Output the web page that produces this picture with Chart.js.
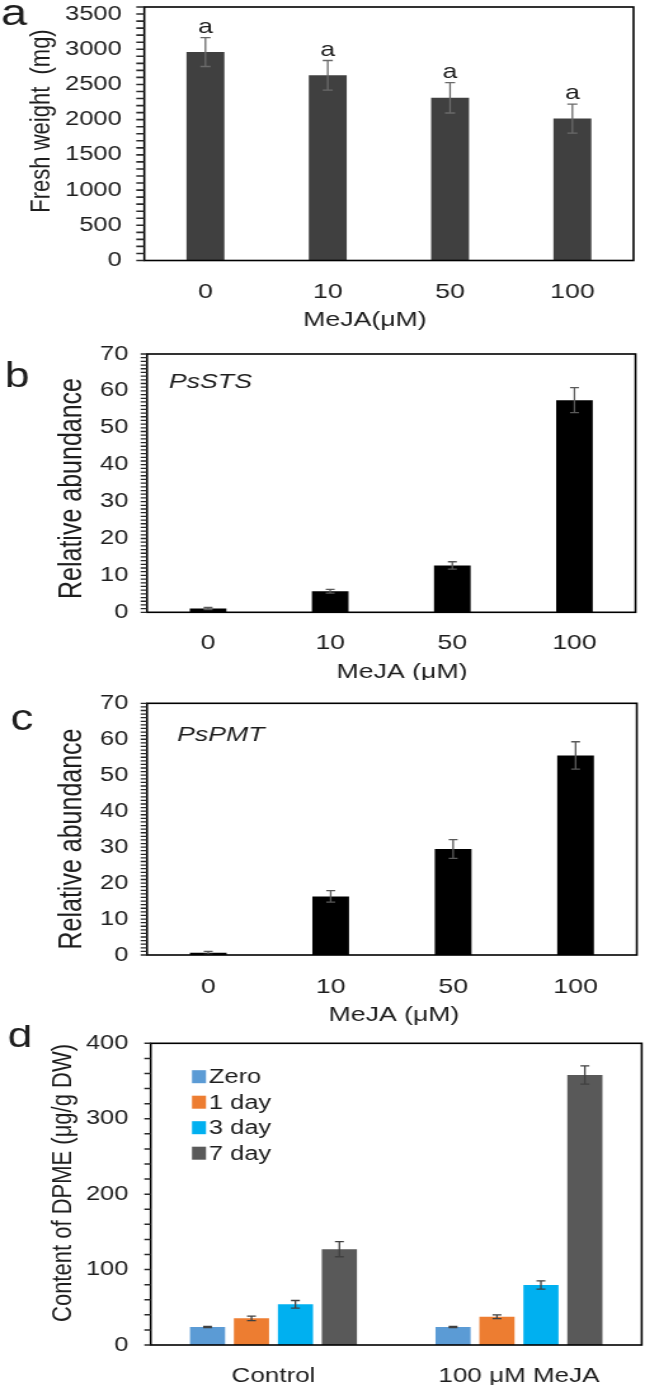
<!DOCTYPE html>
<html><head><meta charset="utf-8">
<script src="https://cdn.jsdelivr.net/npm/chart.js@4.4.1/dist/chart.umd.min.js"></script>
<style>
html,body{margin:0;padding:0;background:#fff;}
#page{position:relative;width:645px;height:1393px;overflow:hidden;background:#fff;}
.panel{position:absolute;left:0;width:508px;transform:scaleX(1.269685);transform-origin:0 0;}
</style></head><body>
<div id="page">
<div class="panel" style="top:0;height:335px"><canvas id="cA"></canvas></div>
<div class="panel" style="top:335px;height:345px"><canvas id="cB"></canvas></div>
<div class="panel" style="top:680px;height:345px"><canvas id="cC"></canvas></div>
<div class="panel" style="top:1025px;height:368px"><canvas id="cD"></canvas></div>
</div>
<script>
// ---------- data ----------
const doseLabels = ['0', '10', '50', '100'];
const freshWeight = [2960, 2630, 2310, 2015];
const freshWeightErr = [205, 210, 215, 205];
const freshWeightLetters = ['a', 'a', 'a', 'a'];
const freshWeightTicks = [0, 500, 1000, 1500, 2000, 2500, 3000, 3500];

const stsAbundance = [1.0, 5.7, 12.7, 57.5];
const stsErr = [0.3, 0.5, 1.0, 3.4];
const pmtAbundance = [0.6, 16.3, 29.5, 55.5];
const pmtErr = [0.4, 1.6, 2.6, 3.8];
const abundanceTicks = [0, 10, 20, 30, 40, 50, 60, 70];

const dpmeGroups = ['Control', '100 μM MeJA'];
const dpmeSeriesNames = ['Zero', '1 day', '3 day', '7 day'];
const dpmeZero = [24, 24];
const dpmeZeroErr = [0.8, 0.8];
const dpmeDay1 = [35.4, 37.5];
const dpmeDay1Err = [3.0, 2.5];
const dpmeDay3 = [54, 79.5];
const dpmeDay3Err = [5.0, 5.5];
const dpmeDay7 = [127, 358];
const dpmeDay7Err = [10, 12];
const dpmeTicks = [0, 100, 200, 300, 400];

// ---------- helpers ----------
const S = 645 / 508;
const FONT = "'Liberation Sans', Arial, Helvetica, sans-serif";
const TXT = '#1e1e1e';

const framePlugin = {
  id: 'frame',
  afterDraw(chart) {
    const {ctx, chartArea: a} = chart;
    ctx.save();
    ctx.strokeStyle = '#000';
    ctx.lineWidth = 1.6;
    ctx.strokeRect(a.left, a.top, a.right - a.left, a.bottom - a.top);
    ctx.restore();
  }
};

const yTickPlugin = {
  id: 'yTickMarks',
  afterDraw(chart, args, opts) {
    const ys = chart.scales.y;
    const ctx = chart.ctx;
    const left = chart.chartArea.left;
    const len = opts.len || 6;
    ctx.save();
    ctx.strokeStyle = opts.color || '#222';
    ctx.lineWidth = opts.width || 1.3;
    ctx.beginPath();
    for (const t of ys.ticks) {
      const y = ys.getPixelForValue(t.value);
      ctx.moveTo(left - len, y);
      ctx.lineTo(left, y);
    }
    ctx.stroke();
    ctx.restore();
  }
};

const errorBarPlugin = {
  id: 'errorBars',
  afterDatasetsDraw(chart, args, opts) {
    const {ctx} = chart;
    const ys = chart.scales.y;
    chart.data.datasets.forEach((ds, i) => {
      if (!ds.errors) return;
      const meta = chart.getDatasetMeta(i);
      meta.data.forEach((bar, j) => {
        const v = ds.data[j], e = ds.errors[j];
        const top = ys.getPixelForValue(v + e), bot = ys.getPixelForValue(v - e);
        const hw = opts.cap / 2;
        ctx.save();
        ctx.strokeStyle = opts.color;
        ctx.lineWidth = opts.width;
        ctx.beginPath();
        ctx.moveTo(bar.x, top); ctx.lineTo(bar.x, bot);
        ctx.moveTo(bar.x - hw, top); ctx.lineTo(bar.x + hw, top);
        ctx.moveTo(bar.x - hw, bot); ctx.lineTo(bar.x + hw, bot);
        ctx.stroke();
        ctx.restore();
        if (ds.letters) {
          ctx.save();
          ctx.fillStyle = TXT;
          ctx.font = opts.letterSize + 'px ' + FONT;
          ctx.textAlign = 'center';
          ctx.textBaseline = 'alphabetic';
          ctx.fillText(ds.letters[j], bar.x, top - opts.letterGap);
          ctx.restore();
        }
      });
    });
  }
};

const textPlugin = {
  id: 'panelText',
  afterDraw(chart, args, opts) {
    const ctx = chart.ctx;
    (opts.items || []).forEach(it => {
      ctx.save();
      ctx.fillStyle = TXT;
      ctx.font = (it.style || 'normal') + ' ' + it.size + 'px ' + FONT;
      ctx.textAlign = it.align || 'center';
      ctx.textBaseline = 'middle';
      ctx.translate(it.x / S, it.y);
      if (it.rotate) ctx.rotate(-Math.PI / 2);
      ctx.fillText(it.text, 0, 0);
      ctx.restore();
    });
  }
};

const boxLegendPlugin = {
  id: 'boxLegend',
  afterDraw(chart, args, opts) {
    if (!opts.show) return;
    const ctx = chart.ctx;
    chart.data.datasets.forEach((ds, i) => {
      const y = opts.y0 + i * opts.step;
      ctx.save();
      ctx.fillStyle = ds.backgroundColor;
      ctx.fillRect(opts.boxX / S, y - opts.boxH / 2, opts.boxW / S, opts.boxH);
      ctx.fillStyle = TXT;
      ctx.font = opts.size + 'px ' + FONT;
      ctx.textAlign = 'left';
      ctx.textBaseline = 'middle';
      ctx.fillText(ds.label, opts.textX / S, y + 1);
      ctx.restore();
    });
  }
};

function yScale(o) {
  return {
    type: 'linear', min: 0, max: o.max,
    afterBuildTicks(scale) {
      const vals = [];
      for (let k = 0; k * o.minorStep <= o.max + 1e-9; k++) vals.push(+(k * o.minorStep).toFixed(6));
      scale.ticks = vals.map(v => ({value: v}));
    },
    afterFit(scale) { scale.width = o.width; scale.paddingTop = 0; scale.paddingBottom = 0; },
    ticks: {
      autoSkip: false, color: TXT, padding: o.padding,
      font: {family: FONT, size: o.font},
      callback: (v) => o.labels.includes(v) ? String(v) : ''
    },
    grid: {display: false, drawOnChartArea: false, drawTicks: false},
    border: {display: false}
  };
}

function xScale(o) {
  return {
    type: 'category', offset: true,
    afterFit(scale) { scale.height = o.height; scale.paddingLeft = 0; scale.paddingRight = 0; },
    ticks: {font: {family: FONT, size: o.font}, color: TXT, padding: o.padding, maxRotation: 0, autoSkip: false},
    grid: {display: false, drawTicks: false},
    border: {display: false}
  };
}

const base = {
  responsive: true, maintainAspectRatio: false, animation: false,
  events: []
};

// ---------- panel a ----------
new Chart(document.getElementById('cA'), {
  type: 'bar',
  data: {
    labels: doseLabels,
    datasets: [{
      label: 'Fresh weight', data: freshWeight, errors: freshWeightErr, letters: freshWeightLetters,
      backgroundColor: '#404040', borderWidth: 0, barPercentage: 0.31, categoryPercentage: 1.0
    }]
  },
  options: Object.assign({}, base, {
    layout: {padding: {left: 13.65, right: 9.05, top: 7, bottom: 24.5}},
    scales: {
      x: xScale({font: 21, padding: 19, height: 50}),
      y: yScale({max: 3600, labels: freshWeightTicks, minorStep: 100, font: 20, padding: 17.8, width: 100})
    },
    plugins: {
      legend: {display: false}, tooltip: {enabled: false},
      yTickMarks: {len: 6.3, color: '#2a2a2a', width: 1.6},
      errorBars: {color: '#6a6a6a', width: 1.3, cap: 8, letterSize: 21, letterGap: 5},
      panelText: {items: [
        {text: 'a', x: 14, y: 15, size: 37},
        {text: 'Fresh weight  (mg)', x: 42, y: 121, size: 22, rotate: true},
        {text: 'MeJA(μM)', x: 365, y: 320, size: 21}
      ]}
    }
  }),
  plugins: [framePlugin, yTickPlugin, errorBarPlugin, textPlugin]
});

// ---------- panel b ----------
new Chart(document.getElementById('cB'), {
  type: 'bar',
  data: {
    labels: doseLabels,
    datasets: [{
      label: 'PsSTS', data: stsAbundance, errors: stsErr,
      backgroundColor: '#000000', borderWidth: 0, barPercentage: 0.30, categoryPercentage: 1.0
    }]
  },
  options: Object.assign({}, base, {
    layout: {padding: {left: 15.78, right: 7.48, top: 19, bottom: 17.7}},
    scales: {
      x: xScale({font: 21, padding: 18.4, height: 50}),
      y: yScale({max: 70, labels: abundanceTicks, minorStep: 1, font: 20, padding: 14.7, width: 100})
    },
    plugins: {
      legend: {display: false}, tooltip: {enabled: false},
      yTickMarks: {len: 5, color: '#2a2a2a', width: 1.3},
      errorBars: {color: '#5a5a5a', width: 1.3, cap: 7},
      panelText: {items: [
        {text: 'b', x: 17, y: 42, size: 35},
        {text: 'Relative abundance', x: 73, y: 153.5, size: 25, rotate: true},
        {text: 'PsSTS', x: 169, y: 47, size: 21, style: 'italic', align: 'left'},
        {text: 'MeJA (μM)', x: 402, y: 337, size: 21}
      ]}
    }
  }),
  plugins: [framePlugin, yTickPlugin, errorBarPlugin, textPlugin]
});

// ---------- panel c ----------
new Chart(document.getElementById('cC'), {
  type: 'bar',
  data: {
    labels: doseLabels,
    datasets: [{
      label: 'PsPMT', data: pmtAbundance, errors: pmtErr,
      backgroundColor: '#000000', borderWidth: 0, barPercentage: 0.30, categoryPercentage: 1.0
    }]
  },
  options: Object.assign({}, base, {
    layout: {padding: {left: 15.78, right: 6.46, top: 23.3, bottom: 20}},
    scales: {
      x: xScale({font: 21, padding: 19.4, height: 50}),
      y: yScale({max: 70, labels: abundanceTicks, minorStep: 1, font: 20, padding: 14.7, width: 100})
    },
    plugins: {
      legend: {display: false}, tooltip: {enabled: false},
      yTickMarks: {len: 5, color: '#2a2a2a', width: 1.3},
      errorBars: {color: '#5a5a5a', width: 1.3, cap: 7},
      panelText: {items: [
        {text: 'c', x: 22, y: 40, size: 36},
        {text: 'Relative abundance', x: 72, y: 159, size: 25, rotate: true},
        {text: 'PsPMT', x: 177, y: 55, size: 21, style: 'italic', align: 'left'},
        {text: 'MeJA (μM)', x: 394, y: 335, size: 21}
      ]}
    }
  }),
  plugins: [framePlugin, yTickPlugin, errorBarPlugin, textPlugin]
});

// ---------- panel d ----------
const dpmeColors = ['#5B9BD5', '#ED7D31', '#00B0F0', '#595959'];
const dpmeValues = [dpmeZero, dpmeDay1, dpmeDay3, dpmeDay7];
const dpmeErrors = [dpmeZeroErr, dpmeDay1Err, dpmeDay3Err, dpmeDay7Err];
new Chart(document.getElementById('cD'), {
  type: 'bar',
  data: {
    labels: dpmeGroups,
    datasets: dpmeSeriesNames.map((name, i) => ({
      label: name, data: dpmeValues[i], errors: dpmeErrors[i],
      backgroundColor: dpmeColors[i], borderWidth: 0,
      barPercentage: 0.8, categoryPercentage: 0.716
    }))
  },
  options: Object.assign({}, base, {
    layout: {padding: {left: 18.69, right: 2.6, top: 18.3, bottom: 8}},
    scales: {
      x: xScale({font: 20.5, padding: 19.4, height: 40}),
      y: yScale({max: 400, labels: dpmeTicks, minorStep: 20, font: 20, padding: 17.6, width: 100})
    },
    plugins: {
      legend: {display: false}, tooltip: {enabled: false},
      yTickMarks: {len: 5, color: '#2a2a2a', width: 1.5},
      errorBars: {color: '#404040', width: 1.3, cap: 7},
      boxLegend: {show: true, y0: 51.7, step: 25.5, boxX: 192, boxW: 14, boxH: 13, textX: 209, size: 20},
      panelText: {items: [
        {text: 'd', x: 20, y: 12, size: 35},
        {text: 'Content of DPME (μg/g DW)', x: 64, y: 158, size: 22, rotate: true}
      ]}
    }
  }),
  plugins: [framePlugin, yTickPlugin, errorBarPlugin, boxLegendPlugin, textPlugin]
});
</script>
</body></html>
